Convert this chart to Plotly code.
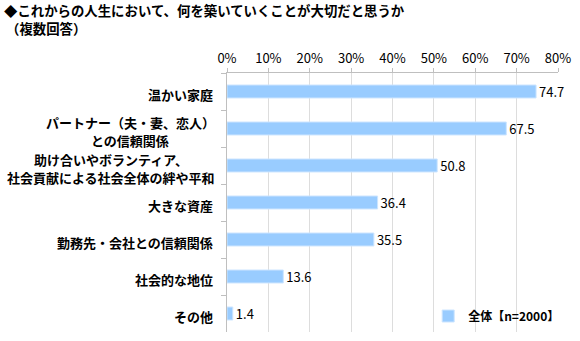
import plotly.graph_objects as go

categories = [
    "温かい家庭",
    "パートナー（夫・妻、恋人）<br>との信頼関係",
    "助け合いやボランティア、<br>社会貢献による社会全体の絆や平和",
    "大きな資産",
    "勤務先・会社との信頼関係",
    "社会的な地位",
    "その他",
]
values = [74.7, 67.5, 50.8, 36.4, 35.5, 13.6, 1.4]
series_name = "全体【n=2000】"
title_line1 = "◆これからの人生において、何を築いていくことが大切だと思うか"
title_line2 = "（複数回答）"
x_ticks = [0, 10, 20, 30, 40, 50, 60, 70, 80]

FONT = "Noto Sans CJK JP"
W, H = 580, 341
ML, MR, MT, MB = 227, 19, 73, 9
PW, PH = W - ML - MR, H - MT - MB


def px_to_paper_x(px):
    return (px - ML) / PW


def px_to_paper_y(py):
    return (H - MB - py) / PH


fig = go.Figure()
fig.add_trace(go.Bar(
    y=categories,
    x=values,
    orientation="h",
    name=series_name,
    marker=dict(color="#99CCFF", line=dict(color="#CCE5FF", width=1)),
    width=0.35,
    text=[f"{v:.1f}" for v in values],
    textposition="outside",
    constraintext="none",
    textfont=dict(family=FONT, size=13, color="#000000"),
    cliponaxis=False,
))

annotations = []
LABEL_FS = 13
LINE_H = 18
RIGHT_PX = 214
for c in categories:
    lines = c.split("<br>")
    n = len(lines)
    lab_font = dict(family=FONT, size=LABEL_FS, color="#000000", weight="bold")
    if n == 1:
        annotations.append(dict(
            x=px_to_paper_x(RIGHT_PX), xref="paper", y=c, yref="y",
            text=c, showarrow=False, xanchor="right", yanchor="middle",
            yshift=-3, borderpad=0, font=lab_font,
        ))
    else:
        max_w = max(len(ln) for ln in lines) * LABEL_FS
        cx = RIGHT_PX - max_w / 2
        for i, ln in enumerate(lines):
            annotations.append(dict(
                x=px_to_paper_x(cx), xref="paper", y=c, yref="y",
                text=ln, showarrow=False, xanchor="center", yanchor="middle",
                yshift=-3 - (i - (n - 1) / 2) * LINE_H, borderpad=0,
                font=lab_font,
            ))

title_font = dict(family=FONT, size=13.4, color="#000000", weight="bold")
annotations.append(dict(
    x=px_to_paper_x(1), xref="paper", y=px_to_paper_y(10), yref="paper",
    text=title_line1, showarrow=False, xanchor="left", yanchor="middle",
    borderpad=0, font=title_font,
))
annotations.append(dict(
    x=px_to_paper_x(3), xref="paper", y=px_to_paper_y(28), yref="paper",
    text=title_line2, showarrow=False, xanchor="left", yanchor="middle",
    borderpad=0, font=title_font,
))

fig.update_layout(
    width=W, height=H,
    margin=dict(l=ML, r=MR, t=MT, b=MB),
    paper_bgcolor="white", plot_bgcolor="white",
    font=dict(family=FONT, color="#000000"),
    xaxis=dict(
        side="top", range=[0, 80], tickvals=x_ticks,
        ticktext=[f"{t}%" for t in x_ticks],
        tickfont=dict(family=FONT, size=13, color="#000000"),
        showgrid=True, gridcolor="#DDDDDD", gridwidth=1,
        showline=True, linecolor="#BFBFBF", linewidth=1,
        ticks="outside", ticklen=4, tickcolor="#BFBFBF",
        zeroline=False, fixedrange=True,
    ),
    yaxis=dict(
        autorange="reversed", showticklabels=False,
        showline=True, linecolor="#BFBFBF", linewidth=1,
        ticks="outside", ticklen=5, tickcolor="#BFBFBF",
        tickson="boundaries", showgrid=False,
    ),
    showlegend=True,
    legend=dict(
        x=px_to_paper_x(430), y=px_to_paper_y(316), xanchor="left", yanchor="middle",
        bgcolor="rgba(0,0,0,0)",
        font=dict(family=FONT, size=12, color="#000000", weight="bold"),
    ),
    annotations=annotations,
    bargap=0.65,
)

fig.write_html("out.html")
